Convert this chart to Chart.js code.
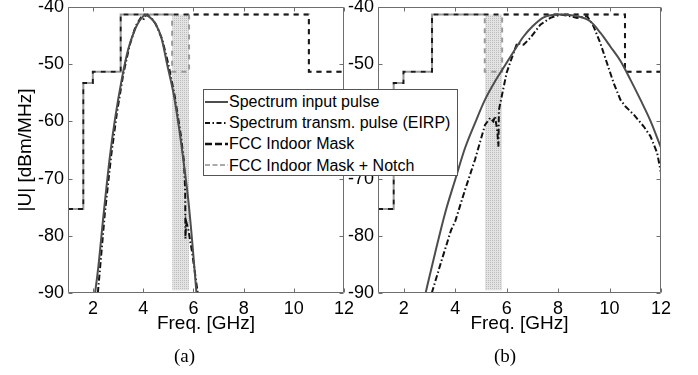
<!DOCTYPE html>
<html>
<head>
<meta charset="utf-8">
<script src="https://cdn.jsdelivr.net/npm/chart.js@4.4.1/dist/chart.umd.min.js"></script>
<style>
  body { margin: 0; background: #fff; width: 698px; height: 375px; position: relative; overflow: hidden;
         font-family: "Liberation Sans", Arial, sans-serif; }
  canvas { position: absolute; top: 0; }
  #chartA { left: 0; }
  #chartB { left: 340px; }
  .cap { position: absolute; top: 345px; font: 19px "Liberation Serif", "Times New Roman", serif; }
  #legend { position: absolute; left: 203px; top: 89px; width: 253px; height: 84px; background: #fff;
            border: 1px solid #555; font-size: 16px; z-index: 2; padding-top: 1px; }
  #legend div { height: 21.2px; line-height: 21.2px; white-space: nowrap; }
  #legend svg { vertical-align: middle; margin-top: -2px; }
</style>
</head>
<body>
<canvas id="chartA" width="360" height="375" style="width:360px;height:375px"></canvas>
<canvas id="chartB" width="358" height="375" style="width:358px;height:375px"></canvas>
<div class="cap" style="left:174px">(a)</div>
<div class="cap" style="left:494px">(b)</div>
<div id="legend">
  <div><svg width="25" height="10"><line x1="1" y1="5" x2="24" y2="5" stroke="#4d4d4d" stroke-width="2"/></svg>Spectrum input pulse</div>
  <div><svg width="25" height="10"><line x1="1" y1="5" x2="24" y2="5" stroke="#111" stroke-width="2" stroke-dasharray="5,2.5,1.5,2.5"/></svg>Spectrum transm. pulse (EIRP)</div>
  <div><svg width="25" height="10"><line x1="1" y1="5" x2="24" y2="5" stroke="#111" stroke-width="2.5" stroke-dasharray="7,3"/></svg>FCC Indoor Mask</div>
  <div><svg width="25" height="10"><line x1="1" y1="5" x2="24" y2="5" stroke="#aaa" stroke-width="2" stroke-dasharray="5,2.5"/></svg>FCC Indoor Mask + Notch</div>
</div>
<script>
// axes
const xTicks = [2, 4, 6, 8, 10, 12];
const yTicks = [-90, -80, -70, -60, -50, -40];

// FCC indoor mask (level holds from each edge on)
const maskEdges = [1, 1.61, 1.99, 3.1, 10.6, 12];
const maskLevels = [-75.3, -53.3, -51.3, -41.3, -51.3, -51.3];
const notchEdges = [1, 1.61, 1.99, 3.1, 5.15, 5.825, 10.6, 12];
const notchLevels = [-75.3, -53.3, -51.3, -41.3, -51.3, -41.3, -51.3, -51.3];
const notchBand = [5.15, 5.825];
const notchTop = -41.3, notchBottom = -89.5;

// (a) spectra
const freqInA = [2.08, 2.21, 2.41, 2.67, 2.87, 3.14, 3.40, 3.67, 3.85, 4.0, 4.1, 4.2, 4.47, 4.73, 4.95, 5.2, 5.42, 5.62, 5.8, 5.95, 6.12];
const specInA = [-90, -85.4, -76.6, -66.1, -59.7, -52.7, -47.4, -43.9, -42.4, -41.6, -41.4, -41.6, -42.8, -45.5, -50, -55, -61, -67.5, -74, -81, -90];
const freqTxA = [2.19, 2.3, 2.47, 2.72, 2.95, 3.2, 3.45, 3.7, 3.9, 4.0, 4.05, 4.15, 4.3, 4.5, 4.75, 5.0, 5.25, 5.5, 5.62, 5.67, 5.68, 5.71, 5.8, 5.95, 6.17];
const specTxA = [-90, -84.5, -76, -66, -58.5, -51.8, -46.8, -43.3, -41.9, -42.3, -41.6, -41.4, -41.8, -43.0, -45.6, -50, -55.5, -62.5, -67, -72, -80.5, -77.5, -79, -83, -90];

// (b) spectra
const freqInB = [2.85, 3.22, 3.61, 4.0, 4.38, 4.77, 5.16, 5.55, 5.94, 6.3, 6.65, 7.0, 7.44, 8.05, 8.74, 9.25, 9.64, 10.03, 10.42, 10.81, 11.2, 11.59, 12];
const specInB = [-90, -83, -76, -70.2, -64.7, -60.3, -56.2, -53, -50.2, -47.6, -45.2, -43.4, -41.8, -41.3, -41.6, -42.5, -44.5, -46.9, -49.4, -52.7, -56.2, -59.9, -64.6];
const freqTxB = [3.09, 3.48, 3.84, 4.0, 4.38, 4.77, 5.16, 5.36, 5.48, 5.55, 5.64, 5.68, 5.70, 5.81, 6.0, 6.2, 6.41, 6.66, 6.92, 7.31, 7.7, 8.09, 8.48, 8.74, 9.13, 9.38, 9.64, 9.9, 10.16, 10.42, 10.62, 10.94, 11.33, 11.59, 11.85, 12];
const specTxB = [-90, -84.2, -79, -77.5, -72, -66.7, -60.6, -59.4, -60, -59.1, -61.8, -64.4, -58, -55.6, -51.5, -48.9, -46.3, -46.6, -45.4, -43.1, -41.9, -41.3, -41.6, -41.9, -41.6, -43.4, -46.3, -49.8, -53.3, -56.2, -57.4, -58.8, -60.9, -62.6, -65.5, -69];

Chart.defaults.font.family = '"Liberation Sans", Arial, sans-serif';
Chart.defaults.color = '#000';

const pts = (xs, ys) => xs.map((x, i) => ({ x: x, y: ys[i] }));

// box + inward ticks like matlab
const framePlugin = {
  id: 'frame',
  afterDraw(chart) {
    const { ctx, chartArea: a, scales } = chart;
    const L = a.left + 0.5, R = a.right - 0.5, T = a.top + 0.5, B = a.bottom - 0.5;
    ctx.save();
    ctx.strokeStyle = '#6e6e6e';
    ctx.lineWidth = 1;
    ctx.beginPath();
    ctx.rect(L, T, R - L, B - T);
    scales.x.ticks.forEach(t => {
      const px = Math.round(scales.x.getPixelForValue(t.value)) + 0.5;
      ctx.moveTo(px, B); ctx.lineTo(px, B - 4);
      ctx.moveTo(px, T); ctx.lineTo(px, T + 4);
    });
    scales.y.ticks.forEach(t => {
      const py = Math.round(scales.y.getPixelForValue(t.value)) + 0.5;
      ctx.moveTo(L, py); ctx.lineTo(L + 4, py);
      ctx.moveTo(R, py); ctx.lineTo(R - 4, py);
    });
    ctx.stroke();
    ctx.restore();
  }
};

function makeChart(id, inX, inY, txX, txY, yWidth, padRight, yTitle) {
  const canvas = document.getElementById(id);
  const tile = document.createElement('canvas');
  tile.width = 2; tile.height = 2;
  const tc = tile.getContext('2d');
  tc.fillStyle = '#e3e3e3'; tc.fillRect(0, 0, 2, 2);
  tc.fillStyle = '#bdbdbd'; tc.fillRect(0, 0, 1, 1);
  const pattern = canvas.getContext('2d').createPattern(tile, 'repeat');

  return new Chart(canvas, {
    type: 'line',
    data: {
      datasets: [
        { data: pts(inX, inY), borderColor: '#4d4d4d', borderWidth: 2, cubicInterpolationMode: 'monotone' },
        { data: pts(txX, txY), borderColor: '#111', borderWidth: 2, borderDash: [6, 2.5, 1.5, 2.5], tension: 0 },
        { data: pts(maskEdges, maskLevels), borderColor: '#1a1a1a', borderWidth: 2, borderDash: [5, 5], stepped: true },
        { data: pts(notchEdges, notchLevels), borderColor: '#9a9a9a', borderWidth: 2, borderDash: [5, 5], borderDashOffset: 5, stepped: true },
        { data: pts(notchBand, [notchTop, notchTop]), borderWidth: 0, borderColor: 'rgba(0,0,0,0)',
          backgroundColor: pattern, fill: { value: notchBottom } }
      ]
    },
    options: {
      responsive: false,
      animation: false,
      events: [],
      elements: { point: { radius: 0 } },
      layout: { padding: { top: 7, right: padRight, bottom: 0, left: 0 } },
      plugins: { legend: { display: false }, tooltip: { enabled: false } },
      scales: {
        x: {
          type: 'linear', min: 1, max: 12,
          afterBuildTicks: s => { s.ticks = xTicks.map(v => ({ value: v })); },
          afterFit: s => { s.height = 82; s.paddingLeft = 0; s.paddingRight = 0; },
          grid: { display: false, drawTicks: false },
          border: { display: false },
          ticks: { font: { size: 18 }, padding: 5, maxRotation: 0, autoSkip: false },
          title: { display: true, text: 'Freq. [GHz]', font: { size: 19 }, padding: { top: 0, bottom: 40 } }
        },
        y: {
          type: 'linear', min: -90, max: -40,
          afterBuildTicks: s => { s.ticks = yTicks.map(v => ({ value: v })); },
          afterFit: s => { s.width = yWidth; s.paddingTop = 0; s.paddingBottom = 0; },
          grid: { display: false, drawTicks: false },
          border: { display: false },
          ticks: { font: { size: 18 }, padding: 4 },
          title: { display: !!yTitle, text: yTitle || '', font: { size: 19 }, padding: { top: 14, bottom: 0 } }
        }
      }
    },
    plugins: [framePlugin]
  });
}

makeChart('chartA', freqInA, specInA, freqTxA, specTxA, 68, 16, '|U| [dBm/MHz]');
makeChart('chartB', freqInB, specInB, freqTxB, specTxB, 38, 37, null);
</script>
</body>
</html>
